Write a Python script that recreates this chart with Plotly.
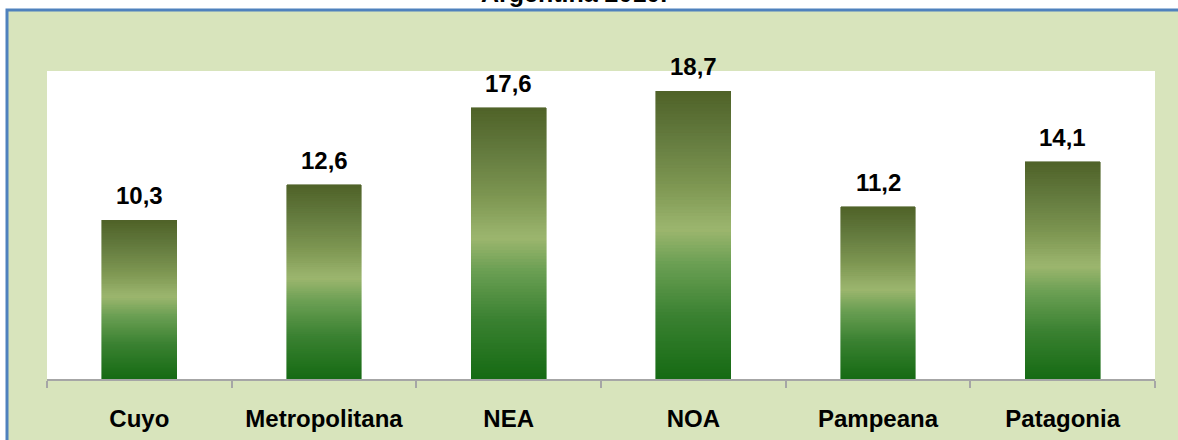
import plotly.graph_objs as go
from plotly.colors import sample_colorscale

regions = ['Cuyo', 'Metropolitana', 'NEA', 'NOA', 'Pampeana', 'Patagonia']
values = [10.3, 12.6, 17.6, 18.7, 11.2, 14.1]
title = 'Argentina 2010.'

# gradient bottom -> top, each bar shaded over its own height
bar_scale = [[0.0, '#156a13'], [0.22, '#3a8131'], [0.4, '#6a9f53'], [0.52, '#9cb66e'],
             [0.68, '#7c9551'], [0.85, '#62793d'], [1.0, '#4f6228']]
n_steps = 90
step_colors = sample_colorscale(bar_scale, [(i + 0.5) / n_steps for i in range(n_steps)])

fig = go.Figure()
for i, c in enumerate(step_colors):
    fig.add_trace(go.Bar(x=regions, y=[v / n_steps for v in values],
                         marker=dict(color=c, line=dict(color=c, width=0.6)),
                         hoverinfo='skip', showlegend=False))

for r, v in zip(regions, values):
    fig.add_annotation(x=r, y=v, text='<b>%s</b>' % str(v).replace('.', ','),
                       showarrow=False, yanchor='bottom', yshift=9,
                       font=dict(size=24, color='black'))

# title sits mostly above the visible area, only its lower part shows
fig.add_annotation(xref='paper', yref='paper', x=0.4756, y=1.2, yanchor='bottom',
                   text='<b>%s</b>' % title, showarrow=False,
                   font=dict(size=25, color='black'))

# green frame with blue border, white plot area on top of it
fig.add_shape(type='rect', xref='paper', yref='paper', x0=-0.0361, x1=1.04, y0=-0.25, y1=1.198,
              fillcolor='#d8e4bc', line=dict(color='#4f81bd', width=3), layer='below')
fig.add_shape(type='rect', xref='paper', yref='paper', x0=0, x1=1, y0=0, y1=1,
              fillcolor='white', line=dict(width=0), layer='below')

fig.update_layout(barmode='stack', bargap=0.594,
                  width=1178, height=440,
                  paper_bgcolor='white', plot_bgcolor='white',
                  margin=dict(l=47, r=23, t=71, b=61, autoexpand=False),
                  font=dict(family='Arial, Liberation Sans, sans-serif', color='black'),
                  showlegend=False)
fig.update_xaxes(type='category', tickson='boundaries', ticks='outside', ticklen=7,
                 tickwidth=1.5, tickcolor='#a6a6a6', showline=True, linecolor='#a6a6a6',
                 linewidth=2, showgrid=False, ticklabelstandoff=17, automargin=False,
                 tickfont=dict(size=24, color='black', weight='bold'))
fig.update_yaxes(range=[0, 20], visible=False, showgrid=False)

fig.write_html("out.html", config={'displayModeBar': False},
               post_script="document.body.style.margin='0';")
